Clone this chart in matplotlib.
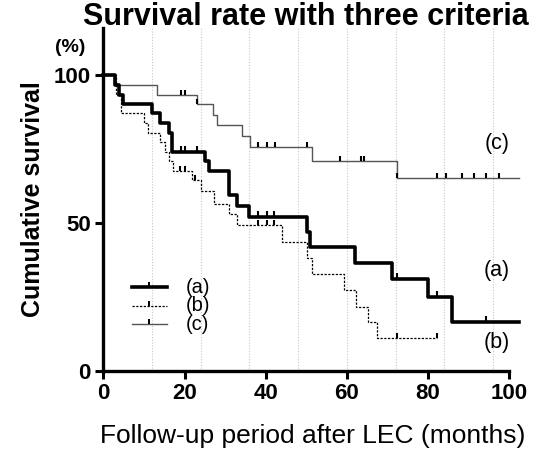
import matplotlib
matplotlib.use('Agg')
import matplotlib.pyplot as plt
from matplotlib.path import Path

plt.rcParams['font.family'] = ['Liberation Sans', 'DejaVu Sans']

# step curves: time (months) and survival (%)
a_time = [0, 2.9, 3.9, 4.9, 12.0, 14.0, 16.2, 17.0, 25.0, 26.0, 31.0, 33.0, 36.0,
          50.2, 51.0, 62.0, 71.0, 80.0, 86.0, 102.5]
a_surv = [100, 96.8, 93.5, 90.3, 87.1, 83.9, 80.6, 74.2, 71.0, 67.7, 59.6, 55.8, 52.2,
          47.0, 41.9, 36.6, 31.1, 24.9, 16.6, 16.6]
a_cens_t = [19.1, 20.1, 23.0, 38.2, 40.2, 42.1, 72.3, 82.3, 94.3]
a_cens_s = [74.2, 74.2, 74.2, 52.2, 52.2, 52.2, 31.1, 24.9, 16.6]

b_time = [0, 3.1, 4.3, 9.9, 11.1, 14.0, 15.2, 16.3, 17.1, 21.8, 24.1, 27.2, 31.0, 33.0,
          44.1, 50.2, 51.3, 59.2, 62.2, 65.3, 67.3, 82.3]
b_surv = [100, 93.5, 87.1, 83.9, 80.6, 77.4, 74.2, 71.0, 67.7, 64.4, 60.7, 56.6, 53.0, 49.2,
          43.7, 38.1, 32.7, 27.2, 21.7, 16.4, 10.9, 10.9]
b_cens_t = [19.0, 20.1, 22.6, 38.2, 40.2, 42.1, 72.3, 82.3]
b_cens_s = [67.7, 67.7, 64.4, 49.2, 49.2, 49.2, 10.9, 10.9]

c_time = [0, 2.9, 13.1, 23.0, 27.1, 28.1, 34.1, 36.1, 51.3, 72.3, 102.5]
c_surv = [100, 96.8, 93.5, 90.3, 86.7, 83.1, 79.3, 75.7, 71.0, 65.2, 65.2]
c_cens_t = [19.1, 20.1, 23.0, 38.2, 40.2, 42.3, 50.2, 58.3, 63.4, 64.2,
            72.3, 82.3, 84.3, 88.4, 91.3, 94.3, 97.5]
c_cens_s = [93.5, 93.5, 90.3, 75.7, 75.7, 75.7, 75.7, 71.0, 71.0, 71.0,
            65.2, 65.2, 65.2, 65.2, 65.2, 65.2, 65.2]

x_ticks = [0, 20, 40, 60, 80, 100]
y_ticks = [0, 50, 100]
grid_x = [12, 24, 36, 48, 60, 72, 84, 96]

# censor mark: short vertical line going up from the curve
tick_up = Path([(0, 0), (0, 1)])

fig = plt.figure(figsize=(5.37, 4.55), dpi=100)
ax = fig.add_axes([0.1924, 0.1853, 0.756, 0.753])

for g in grid_x:
    ax.axvline(g, color='#c8c8c8', lw=0.8, ls=(0, (1, 1.5)), zorder=0)

gray = '#555555'
ax.step(c_time, c_surv, where='post', color=gray, lw=1.0, clip_on=False, zorder=2)
ax.plot(c_cens_t, c_cens_s, ls='none', marker=tick_up, ms=7, mew=1.5, mec='black', clip_on=False, zorder=4)

ax.step(b_time, b_surv, where='post', color='black', lw=0.9, ls=(0, (1.8, 1.2)), clip_on=False, zorder=2)
ax.plot(b_cens_t, b_cens_s, ls='none', marker=tick_up, ms=7, mew=1.5, mec='black', clip_on=False, zorder=4)

ax.step(a_time, a_surv, where='post', color='black', lw=2.6, clip_on=False, zorder=3)
ax.plot(a_cens_t, a_cens_s, ls='none', marker=tick_up, ms=8, mew=1.5, mec='black', clip_on=False, zorder=4)

ax.set_xlim(0, 100)
ax.set_ylim(0, 116)
ax.set_xticks(x_ticks)
ax.set_yticks(y_ticks)
ax.tick_params(direction='out', length=6, width=2.2, labelsize=16, pad=3)
for lab in ax.get_xticklabels() + ax.get_yticklabels():
    lab.set_fontweight('bold')
for s in ['top', 'right']:
    ax.spines[s].set_visible(False)
for s in ['left', 'bottom']:
    ax.spines[s].set_linewidth(2.4)

ax.set_xlabel('Follow-up period after LEC (months)', fontsize=19, labelpad=8)
ax.xaxis.set_label_coords(0.515, -0.155)
ax.set_ylabel('Cumulative survival', fontsize=18, fontweight='bold', labelpad=6)
fig.text(0.57, 0.945, 'Survival rate with three criteria', fontsize=22, fontweight='bold',
         ha='center', va='baseline')
fig.text(0.131, 0.895, '(%)', fontsize=14, fontweight='bold', ha='center', va='center')

# curve labels on the right
ax.text(97, 77, '(c)', fontsize=15.5, ha='center', va='center')
ax.text(97, 34, '(a)', fontsize=15.5, ha='center', va='center')
ax.text(97, 9.5, '(b)', fontsize=15.5, ha='center', va='center')

# legend drawn by hand in axes coordinates
leg = [('(a)', 'black', 2.6, '-'), ('(b)', 'black', 0.9, (0, (1.8, 1.2))), ('(c)', gray, 1.0, '-')]
for i, (name, col, lw, ls) in enumerate(leg):
    yy = 0.243 - i * 0.054
    ax.plot([0.07, 0.156], [yy, yy], color=col, lw=lw, ls=ls, transform=ax.transAxes)
    ax.plot([0.113], [yy], ls='none', marker=tick_up, ms=7, mew=1.4, mec='black',
            transform=ax.transAxes)
    ax.text(0.233, yy, name, fontsize=14.5, ha='center', va='center', transform=ax.transAxes)

fig.savefig('out.png', dpi=100)
